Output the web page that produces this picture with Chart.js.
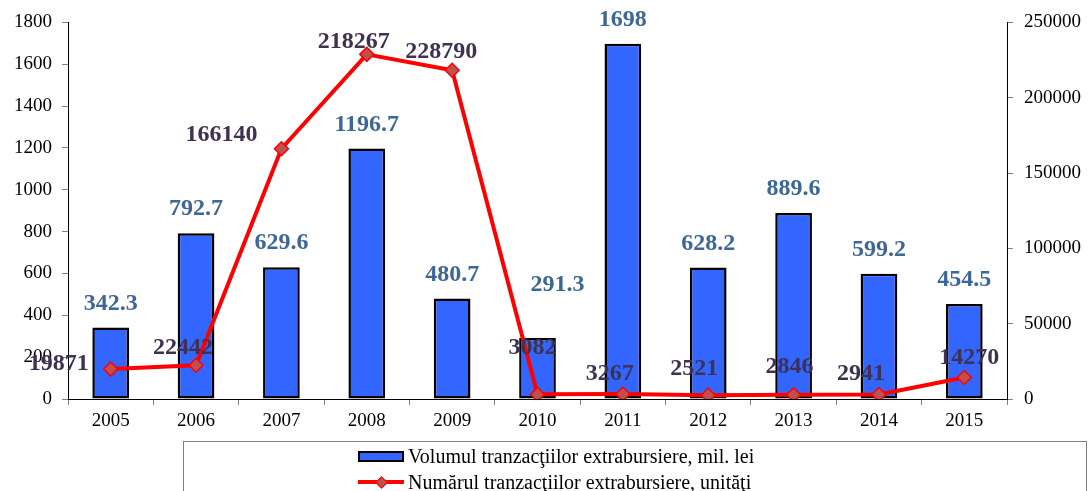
<!DOCTYPE html>
<html>
<head>
<meta charset="utf-8">
<script src="https://cdn.jsdelivr.net/npm/chart.js@4"></script>
<style>
    html, body { margin: 0; padding: 0; background: #fff; }
    #wrap { position: relative; width: 1088px; height: 491px; overflow: hidden; }
    #legend {
        position: absolute; left: 183px; top: 441px; width: 902px; height: 70px;
        border: 1px solid #808080; font: 20px "Liberation Serif", "Times New Roman", serif; color: #000;
    }
    .item { position: absolute; left: 174px; height: 22px; display: flex; align-items: center; white-space: nowrap; }
    .sw { position: relative; width: 46px; height: 22px; margin-right: 4px; }
    .sw.bar span { position: absolute; left: 0; top: 6px; width: 42px; height: 7px; background: #3366ff; border: 2px solid #000; }
    .sw.line span.l { position: absolute; left: 0; top: 9px; width: 46px; height: 4px; background: #ff0000; }
    .sw.line span.d { position: absolute; left: 19px; top: 7px; width: 7px; height: 7px; background: #c0504d; border: 1px solid #ff0000; transform: rotate(45deg); }
</style>
</head>
<body>
<div id="wrap">
    <canvas id="chart" width="1088" height="491"></canvas>
    <div id="legend"></div>
</div>
<script>
    // Data
    const years = ['2005', '2006', '2007', '2008', '2009', '2010', '2011', '2012', '2013', '2014', '2015'];
    const volume = [342.3, 792.7, 629.6, 1196.7, 480.7, 291.3, 1698, 628.2, 889.6, 599.2, 454.5];
    const count = [19871, 22442, 166140, 228790, 218267, 3082, 3267, 2521, 2846, 2941, 14270];
    const volumeLabels = ['342.3', '792.7', '629.6', '1196.7', '480.7', '291.3', '1698', '628.2', '889.6', '599.2', '454.5'];
    const countLabels = ['19871', '22442', '166140', '218267', '228790', '3082', '3267', '2521', '2846', '2941', '14270'];
    const volumeName = 'Volumul tranzacţiilor extrabursiere, mil. lei';
    const countName = 'Numărul tranzacţiilor extrabursiere, unităţi';

    const serif = '"Liberation Serif", "Times New Roman", serif';

    // draws the value labels above bars and points
    const valueLabels = {
        id: 'valueLabels',
        afterDatasetsDraw(chart, args, opts) {
            const ctx = chart.ctx;
            ctx.save();
            ctx.font = 'bold 24px ' + serif;
            ctx.textAlign = 'center';
            ctx.textBaseline = 'middle';
            opts.sets.forEach(function (s) {
                const meta = chart.getDatasetMeta(s.dataset);
                ctx.fillStyle = s.color;
                meta.data.forEach(function (el, i) {
                    const off = (s.shift && s.shift[i]) || s.base;
                    ctx.fillText(s.texts[i], el.x + off[0], el.y + off[1]);
                });
            });
            ctx.restore();
        }
    };

    const fitWidth = function (w) {
        return function (scale) { scale.width = w; };
    };
    const plain = function (v) { return String(v); };

    const ctx = document.getElementById('chart').getContext('2d');
    const chart = new Chart(ctx, {
        type: 'bar',
        data: {
            labels: years,
            datasets: [{
                type: 'line',
                label: countName,
                data: count,
                yAxisID: 'y1',
                borderColor: '#ff0000',
                borderWidth: 4,
                pointStyle: 'rectRot',
                pointRadius: 7,
                pointBackgroundColor: '#c0504d',
                pointBorderColor: '#ff0000',
                pointBorderWidth: 1.5,
                tension: 0,
                order: 0
            }, {
                label: volumeName,
                data: volume,
                yAxisID: 'y',
                backgroundColor: '#3366ff',
                borderColor: '#000000',
                borderWidth: 2.5,
                borderSkipped: false,
                categoryPercentage: 1,
                barPercentage: 0.43,
                order: 1
            }]
        },
        options: {
            responsive: false,
            animation: false,
            layout: { padding: { top: 22, left: 0, right: 0, bottom: 0 } },
            plugins: {
                legend: { display: false },
                tooltip: { enabled: false },
                valueLabels: {
                    sets: [{
                        dataset: 1,
                        texts: volumeLabels,
                        color: '#3d6797',
                        base: [0, -24],
                        shift: { 5: [20, -53] }
                    }, {
                        dataset: 0,
                        texts: countLabels,
                        color: '#3f3151',
                        base: [-13, -20],
                        shift: {
                            0: [-52, -5], 1: [-13, -17], 2: [-60, -14], 3: [-13, -13],
                            4: [-11, -18], 5: [-5, -47], 7: [-14, -26], 8: [-4, -28],
                            9: [-18, -21], 10: [5, -20]
                        }
                    }]
                }
            },
            scales: {
                x: {
                    offset: true,
                    grid: { offset: true, drawOnChartArea: false, tickLength: 6, color: '#808080' },
                    border: { color: '#000', width: 1 },
                    ticks: { color: '#000', padding: 5, font: { family: serif, size: 19 } },
                    afterFit: function (scale) { scale.height = 92; }
                },
                y: {
                    position: 'left',
                    min: 0, max: 1800,
                    ticks: { stepSize: 200, color: '#000', padding: 10, callback: plain, font: { family: serif, size: 19 } },
                    grid: { drawOnChartArea: false, tickLength: 6, color: '#808080' },
                    border: { color: '#000', width: 1 },
                    afterFit: fitWidth(68)
                },
                y1: {
                    position: 'right',
                    min: 0, max: 250000,
                    ticks: { stepSize: 50000, color: '#000', padding: 11, callback: plain, font: { family: serif, size: 19 } },
                    grid: { drawOnChartArea: false, tickLength: 6, color: '#808080' },
                    border: { color: '#000', width: 1 },
                    afterFit: fitWidth(81)
                }
            }
        },
        plugins: [valueLabels]
    });

    // legend box below the chart
    const legend = document.getElementById('legend');
    [{ name: volumeName, kind: 'bar', top: 3 }, { name: countName, kind: 'line', top: 29 }].forEach(function (it) {
        const row = document.createElement('div');
        row.className = 'item';
        row.style.top = it.top + 'px';
        const sw = document.createElement('div');
        sw.className = 'sw ' + it.kind;
        sw.innerHTML = it.kind === 'bar' ? '<span></span>' : '<span class="l"></span><span class="d"></span>';
        const txt = document.createElement('span');
        txt.textContent = it.name;
        row.appendChild(sw);
        row.appendChild(txt);
        legend.appendChild(row);
    });
</script>
</body>
</html>
